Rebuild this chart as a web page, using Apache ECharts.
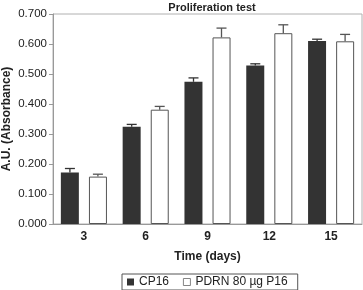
<!DOCTYPE html>
<html>
<head>
<meta charset="utf-8">
<script src="https://cdn.jsdelivr.net/npm/echarts@6/dist/echarts.min.js"></script>
<style>
  html, body { margin: 0; padding: 0; background: #fff; }
  #chart { width: 363px; height: 290px; }
</style>
</head>
<body>
<div id="chart"></div>
<script>
const days = ['3', '6', '9', '12', '15'];
const cp16 = [0.172, 0.324, 0.474, 0.528, 0.610];
const cp16Err = [0.013, 0.008, 0.013, 0.006, 0.006];
const pdrn = [0.158, 0.381, 0.622, 0.636, 0.609];
const pdrnErr = [0.008, 0.011, 0.031, 0.028, 0.023];

const font = 'Liberation Sans, Arial, sans-serif';

// upward error bar with cap, shifted onto its bar
function errorBars(vals, errs, shift, color) {
  return {
    type: 'custom',
    z: 5,
    silent: true,
    data: vals.map((v, i) => [i, v, v + errs[i]]),
    renderItem(params, api) {
      const lo = api.coord([api.value(0), api.value(1)]);
      const hi = api.coord([api.value(0), api.value(2)]);
      const x = lo[0] + shift;
      const cap = 5;
      const style = { stroke: color, lineWidth: 1.3 };
      return {
        type: 'group',
        children: [
          { type: 'line', shape: { x1: x, y1: lo[1], x2: x, y2: hi[1] }, style },
          { type: 'line', shape: { x1: x - cap, y1: hi[1], x2: x + cap, y2: hi[1] }, style }
        ]
      };
    }
  };
}

const chart = echarts.init(document.getElementById('chart'));
chart.setOption({
  animation: false,
  title: {
    text: 'Proliferation test',
    left: 207,
    top: -3,
    textAlign: 'center',
    textStyle: { fontFamily: font, fontSize: 11, fontWeight: 'bold', color: '#222' }
  },
  legend: {
    bottom: 0,
    left: 122,
    icon: 'rect',
    itemWidth: 7,
    itemHeight: 7,
    itemGap: 14,
    borderColor: '#555',
    borderWidth: 1,
    borderRadius: 0,
    padding: [2, 10, 2, 5],
    textStyle: { fontFamily: font, fontSize: 12, color: '#222' },
    data: [
      { name: 'CP16', itemStyle: { color: '#333', borderWidth: 0 } },
      { name: 'PDRN 80 µg P16', itemStyle: { color: '#fff', borderColor: '#666', borderWidth: 0.8 } }
    ]
  },
  grid: {
    left: 53,
    right: 1,
    top: 14,
    bottom: 66,
    outerBoundsMode: 'none',
    containLabel: false,
    show: true,
    borderColor: '#b0b0b0',
    borderWidth: 1
  },
  xAxis: {
    type: 'category',
    data: days,
    name: 'Time (days)',
    nameLocation: 'middle',
    nameGap: 27,
    nameMoveOverlap: false,
    nameTextStyle: { fontFamily: font, fontSize: 12, fontWeight: 'bold', color: '#222' },
    axisLine: { lineStyle: { color: '#999' } },
    axisTick: { length: 4, lineStyle: { color: '#999' } },
    axisLabel: { fontFamily: font, fontSize: 12, fontWeight: 'bold', color: '#222', margin: 7 }
  },
  yAxis: {
    type: 'value',
    min: 0,
    max: 0.7,
    interval: 0.1,
    name: 'A.U. (Absorbance)',
    nameLocation: 'middle',
    nameGap: 40,
    nameMoveOverlap: false,
    nameTextStyle: { fontFamily: font, fontSize: 12, fontWeight: 'bold', color: '#222' },
    axisLine: { show: true, lineStyle: { color: '#999' } },
    axisTick: { show: true, length: 4, lineStyle: { color: '#999' } },
    splitLine: { show: false },
    axisLabel: {
      fontFamily: font, fontSize: 11.5, color: '#222', margin: 6,
      formatter: v => v.toFixed(3)
    }
  },
  series: [
    {
      name: 'CP16',
      type: 'bar',
      data: cp16,
      barWidth: 18,
      barGap: '56%',
      itemStyle: { color: '#333', borderColor: '#333', borderWidth: 0 }
    },
    {
      name: 'PDRN 80 µg P16',
      type: 'bar',
      data: pdrn,
      barWidth: 18,
      itemStyle: { color: '#fff', borderColor: '#555', borderWidth: 1 }
    },
    errorBars(cp16, cp16Err, -14, '#333'),
    errorBars(pdrn, pdrnErr, 14, '#555')
  ]
});
</script>
</body>
</html>
